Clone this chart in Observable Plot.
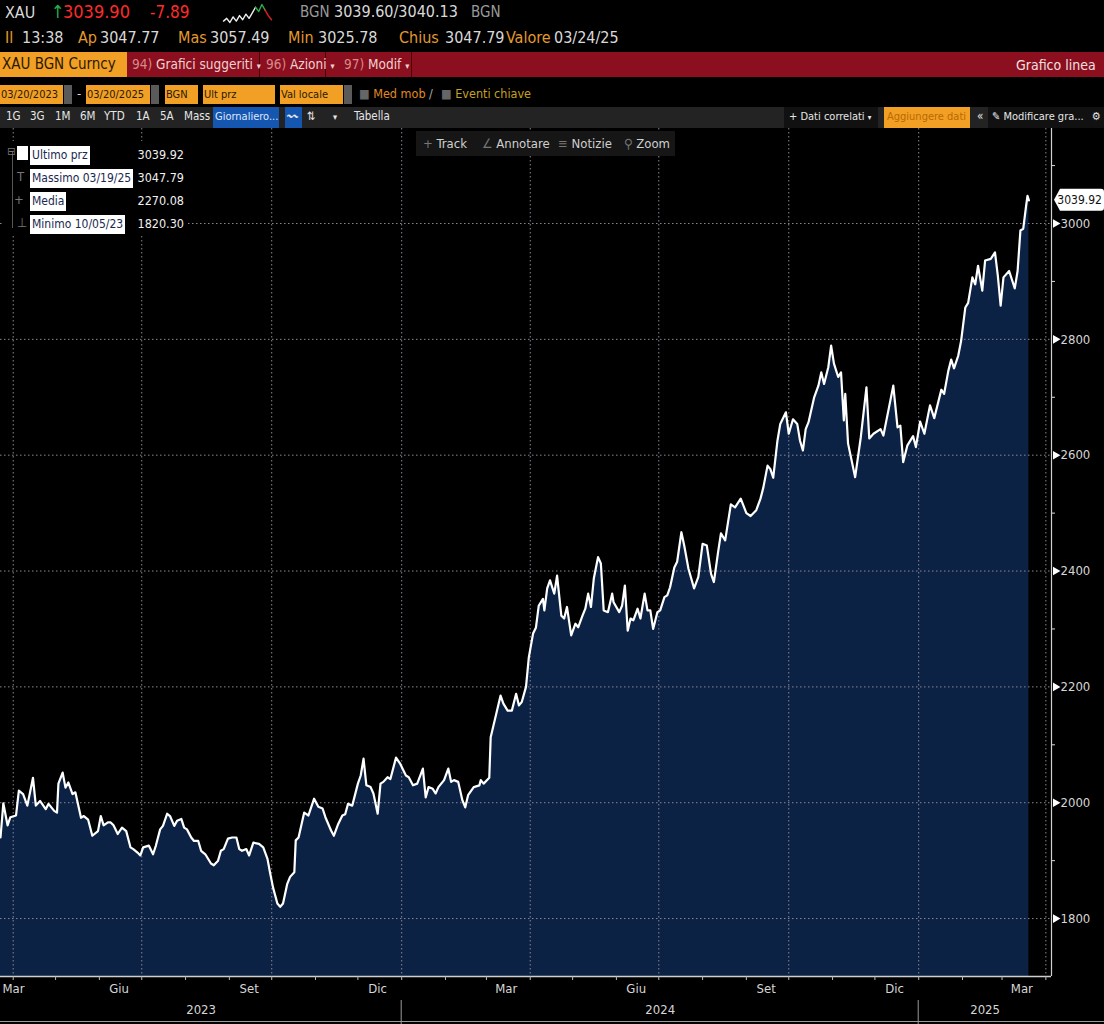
<!DOCTYPE html>
<html>
<head>
<meta charset="utf-8">
<script src="https://cdn.jsdelivr.net/npm/d3@7"></script>
<script src="https://cdn.jsdelivr.net/npm/@observablehq/plot@0.6"></script>
<style>
  html, body { margin: 0; padding: 0; background: #000; }
  body { width: 1104px; height: 1024px; overflow: hidden; position: relative;
         font-family: "DejaVu Sans Condensed", "DejaVu Sans", sans-serif; font-stretch: semi-condensed; }
  svg, svg text { font-stretch: semi-condensed; }
  .a { position: absolute; white-space: nowrap; line-height: 1; }
  .w { color: #d9d9d9; }
  .o { color: #e39a2c; }
  .r { color: #ff2a2a; }
  .box { position: absolute; }
  #chart { position: absolute; left: 0; top: 128px; }
  .ob { background: #f29f26; color: #2a1a00; font-size: 11px; height: 19px; line-height: 19px; padding-left: 1px; box-sizing: border-box; overflow: hidden; }
  .gb { background: #5a5a5a; }
  .tb { color: #e6e6e6; font-size: 11.5px; top: 111px; }
  .lg-l { background: #fff; color: #1a2850; font-size: 12px; height: 19px; line-height: 19px; padding: 0 2px; }
  .lg-v { color: #f0f0f0; font-size: 12.5px; text-align: right; width: 60px; }
</style>
</head>
<body>
<!-- Row 1 -->
<span class="a w" style="left:5px;top:5px;font-size:16px;">XAU</span>
<span class="a" style="left:51px;top:3px;font-size:18px;color:#22b14c;">↑</span>
<span class="a r" style="left:63px;top:3px;font-size:18px;">3039.90</span>
<span class="a r" style="left:150px;top:4px;font-size:17px;">-7.89</span>
<div class="box" id="spark" style="left:221px;top:2px;width:52px;height:22px;"></div>
<span class="a" style="left:300px;top:5px;font-size:15px;color:#9a9a9a;">BGN</span>
<span class="a w" style="left:334px;top:4px;font-size:16px;">3039.60/3040.13</span>
<span class="a" style="left:471px;top:5px;font-size:15px;color:#9a9a9a;">BGN</span>
<!-- Row 2 -->
<span class="a o" style="left:5px;top:30px;font-size:16px;">Il</span>
<span class="a w" style="left:22px;top:30px;font-size:16px;">13:38</span>
<span class="a o" style="left:78px;top:30px;font-size:16px;">Ap</span>
<span class="a w" style="left:100px;top:30px;font-size:16px;">3047.77</span>
<span class="a o" style="left:178px;top:30px;font-size:16px;">Mas</span>
<span class="a w" style="left:210px;top:30px;font-size:16px;">3057.49</span>
<span class="a o" style="left:288px;top:30px;font-size:16px;">Min</span>
<span class="a w" style="left:318px;top:30px;font-size:16px;">3025.78</span>
<span class="a o" style="left:399px;top:30px;font-size:16px;">Chius</span>
<span class="a w" style="left:445px;top:30px;font-size:16px;">3047.79</span>
<span class="a o" style="left:506px;top:30px;font-size:16px;">Valore</span>
<span class="a w" style="left:554px;top:30px;font-size:16px;">03/24/25</span>
<!-- Row 3: red bar -->
<div class="box" style="left:0;top:52px;width:1104px;height:25px;background:#8b0f1f;"></div>
<div class="box" style="left:0;top:52px;width:127px;height:25px;background:#f29f26;"></div>
<span class="a" style="left:2px;top:57px;font-size:15px;color:#2a1a00;">XAU BGN Curncy</span>
<div class="box" style="left:259px;top:52px;width:1px;height:25px;background:#4a0008;"></div>
<div class="box" style="left:325px;top:52px;width:1px;height:25px;background:#4a0008;"></div>
<div class="box" style="left:411px;top:52px;width:1px;height:25px;background:#4a0008;"></div>
<span class="a" style="left:132px;top:58px;font-size:13.5px;color:#f0d0d0;"><span style="color:#d88a8a">94)</span> Grafici suggeriti <span style="font-size:9px">▾</span></span>
<span class="a" style="left:266px;top:58px;font-size:13.5px;color:#f0d0d0;"><span style="color:#d88a8a">96)</span> Azioni <span style="font-size:9px">▾</span></span>
<span class="a" style="left:344px;top:58px;font-size:13.5px;color:#f0d0d0;"><span style="color:#d88a8a">97)</span> Modif <span style="font-size:9px">▾</span></span>
<span class="a" style="left:1016px;top:58px;font-size:14px;color:#f2e0e0;">Grafico linea</span>
<!-- Row 4 -->
<div class="a ob" style="left:0;top:85px;width:63px;">03/20/2023</div>
<div class="box gb" style="left:64px;top:85px;width:8px;height:19px;"></div>
<span class="a w" style="left:77px;top:87px;font-size:13px;">-</span>
<div class="a ob" style="left:86px;top:85px;width:64px;">03/20/2025</div>
<div class="box gb" style="left:151px;top:85px;width:8px;height:19px;"></div>
<div class="a ob" style="left:165px;top:85px;width:33px;">BGN</div>
<div class="a ob" style="left:203px;top:85px;width:72px;">Ult prz</div>
<div class="a ob" style="left:280px;top:85px;width:63px;">Val locale</div>
<div class="box gb" style="left:344px;top:85px;width:8px;height:19px;"></div>
<span class="a" style="left:359px;top:88px;font-size:12.5px;color:#e08a20;"><span style="color:#666">■</span> Med mob <span style="color:#aaa">/</span></span>
<span class="a" style="left:441px;top:88px;font-size:12.5px;color:#c7a020;"><span style="color:#666">■</span> Eventi chiave</span>
<!-- Row 5 toolbar -->
<div class="box" style="left:0;top:107px;width:1104px;height:21px;background:#232323;"></div>
<span class="a tb" style="left:6px;">1G</span>
<span class="a tb" style="left:30px;">3G</span>
<span class="a tb" style="left:55px;">1M</span>
<span class="a tb" style="left:80px;">6M</span>
<span class="a tb" style="left:104px;">YTD</span>
<span class="a tb" style="left:136px;">1A</span>
<span class="a tb" style="left:160px;">5A</span>
<span class="a tb" style="left:184px;">Mass</span>
<div class="box" style="left:213px;top:107px;width:66px;height:21px;background:#1556b0;"></div>
<span class="a tb" style="left:215px;color:#dde8ff;font-size:11px;">Giornaliero...</span>
<div class="box" style="left:285px;top:107px;width:17px;height:21px;background:#1556b0;"></div>
<span class="a tb" style="left:287px;font-size:11px;">〰</span>
<span class="a tb" style="left:307px;">⇅</span>
<span class="a tb" style="left:333px;font-size:9px;top:113px;">▾</span>
<span class="a tb" style="left:354px;">Tabella</span>
<div class="box" style="left:784px;top:107px;width:94px;height:21px;background:#111;"></div>
<span class="a tb" style="left:789px;font-size:11px;">+ Dati correlati <span style="font-size:8px">▾</span></span>
<div class="box" style="left:884px;top:107px;width:86px;height:21px;background:#f29f26;"></div>
<span class="a tb" style="left:887px;color:#b86a00;font-size:11px;">Aggiungere dati</span>
<span class="a tb" style="left:977px;">«</span>
<div class="box" style="left:988px;top:107px;width:116px;height:21px;background:#111;"></div>
<span class="a tb" style="left:992px;font-size:11px;">✎ Modificare gra...</span>
<span class="a tb" style="left:1092px;font-size:11px;">⚙</span>

<div id="chart"></div>

<!-- Track toolbar overlay -->
<div class="box" style="left:416px;top:131px;width:259px;height:25px;background:#161616;"></div>
<span class="a" style="left:423px;top:137px;font-size:13px;color:#cfcfcf;"><span style="color:#777">+</span> Track</span>
<span class="a" style="left:482px;top:137px;font-size:13px;color:#cfcfcf;"><span style="color:#777">∠</span> Annotare</span>
<span class="a" style="left:558px;top:137px;font-size:13px;color:#cfcfcf;"><span style="color:#777">≡</span> Notizie</span>
<span class="a" style="left:624px;top:137px;font-size:13px;color:#cfcfcf;"><span style="color:#777">⚲</span> Zoom</span>

<!-- Legend overlay -->
<div class="box" style="left:4px;top:141px;width:184px;height:95px;background:#000;"></div>
<div class="box" style="left:12px;top:152px;width:1px;height:76px;background:#555;"></div>
<span class="a" style="left:7px;top:146px;font-size:11px;color:#777;">⊟</span>
<div class="box" style="left:17px;top:146px;width:11px;height:14px;background:#fff;"></div>
<span class="a" style="left:17px;top:170px;font-size:13px;color:#777;">T</span>
<span class="a" style="left:14px;top:193px;font-size:13px;color:#777;">+</span>
<span class="a" style="left:17px;top:216px;font-size:13px;color:#777;">⊥</span>
<div class="a lg-l" style="left:30px;top:146px;">Ultimo prz</div>
<div class="a lg-l" style="left:30px;top:169px;">Massimo 03/19/25</div>
<div class="a lg-l" style="left:30px;top:192px;">Media</div>
<div class="a lg-l" style="left:30px;top:215px;">Minimo 10/05/23</div>
<div class="a lg-v" style="left:124px;top:149px;">3039.92</div>
<div class="a lg-v" style="left:124px;top:172px;">3047.79</div>
<div class="a lg-v" style="left:124px;top:195px;">2270.08</div>
<div class="a lg-v" style="left:124px;top:218px;">1820.30</div>

<script>
// ---------- DATA ----------
const dates = [
"2023-03-23","2023-03-25","2023-03-28","2023-03-30","2023-04-03","2023-04-05","2023-04-08","2023-04-11","2023-04-15","2023-04-17",
"2023-04-20","2023-04-24","2023-04-26","2023-04-30","2023-05-02","2023-05-03","2023-05-06","2023-05-08","2023-05-10","2023-05-13",
"2023-05-15","2023-05-19","2023-05-21","2023-05-24","2023-05-27","2023-05-31","2023-06-02","2023-06-04","2023-06-07","2023-06-09",
"2023-06-11","2023-06-14","2023-06-17","2023-06-20","2023-06-23","2023-06-25","2023-06-28","2023-06-30","2023-07-02","2023-07-06",
"2023-07-09","2023-07-11","2023-07-14","2023-07-16","2023-07-19","2023-07-21","2023-07-24","2023-07-26","2023-07-29","2023-07-31",
"2023-08-02","2023-08-05","2023-08-07","2023-08-10","2023-08-12","2023-08-15","2023-08-19","2023-08-21","2023-08-24","2023-08-26",
"2023-08-28","2023-08-31","2023-09-03","2023-09-06","2023-09-08","2023-09-10","2023-09-13","2023-09-15","2023-09-18","2023-09-22",
"2023-09-25","2023-09-28","2023-09-30","2023-10-02","2023-10-05","2023-10-07","2023-10-09","2023-10-12","2023-10-14","2023-10-17",
"2023-10-18","2023-10-20","2023-10-24","2023-10-27","2023-10-31","2023-11-03","2023-11-06","2023-11-08","2023-11-12","2023-11-14",
"2023-11-17","2023-11-20","2023-11-22","2023-11-24","2023-11-27","2023-12-01","2023-12-03","2023-12-05","2023-12-07","2023-12-10",
"2023-12-12","2023-12-15","2023-12-17","2023-12-19","2023-12-22","2023-12-24","2023-12-28","2023-12-31","2024-01-04","2024-01-06",
"2024-01-09","2024-01-12","2024-01-16","2024-01-18","2024-01-20","2024-01-23","2024-01-25","2024-01-27","2024-01-31","2024-02-03",
"2024-02-05","2024-02-07","2024-02-10","2024-02-13","2024-02-15","2024-02-17","2024-02-21","2024-02-25","2024-02-26","2024-02-28",
"2024-03-03","2024-03-04","2024-03-08","2024-03-11","2024-03-13","2024-03-16","2024-03-19","2024-03-22","2024-03-24","2024-03-26",
"2024-03-29","2024-03-31","2024-04-03","2024-04-05","2024-04-07","2024-04-10","2024-04-11","2024-04-13","2024-04-15","2024-04-18",
"2024-04-20","2024-04-23","2024-04-25","2024-04-27","2024-04-30","2024-05-03","2024-05-05","2024-05-08","2024-05-10","2024-05-12",
"2024-05-14","2024-05-16","2024-05-19","2024-05-21","2024-05-23","2024-05-26","2024-05-29","2024-05-30","2024-06-03","2024-06-05",
"2024-06-07","2024-06-09","2024-06-11","2024-06-13","2024-06-16","2024-06-18","2024-06-21","2024-06-23","2024-06-25","2024-06-27",
"2024-06-30","2024-07-02","2024-07-05","2024-07-07","2024-07-09","2024-07-12","2024-07-14","2024-07-17","2024-07-19","2024-07-22",
"2024-07-26","2024-07-29","2024-08-01","2024-08-04","2024-08-07","2024-08-09","2024-08-12","2024-08-14","2024-08-17","2024-08-21",
"2024-08-24","2024-08-28","2024-09-01","2024-09-04","2024-09-08","2024-09-11","2024-09-13","2024-09-16","2024-09-18","2024-09-20",
"2024-09-23","2024-09-25","2024-09-29","2024-10-01","2024-10-04","2024-10-07","2024-10-09","2024-10-11","2024-10-13","2024-10-15",
"2024-10-19","2024-10-22","2024-10-24","2024-10-26","2024-10-29","2024-10-31","2024-11-02","2024-11-05","2024-11-07","2024-11-09",
"2024-11-10","2024-11-12","2024-11-17","2024-11-21","2024-11-25","2024-11-27","2024-11-30","2024-12-05","2024-12-07","2024-12-11",
"2024-12-14","2024-12-17","2024-12-19","2024-12-21","2024-12-24","2024-12-28","2024-12-30","2025-01-02","2025-01-05","2025-01-09",
"2025-01-12","2025-01-17","2025-01-19","2025-01-22","2025-01-24","2025-01-26","2025-01-29","2025-01-31","2025-02-03","2025-02-05",
"2025-02-08","2025-02-10","2025-02-12","2025-02-15","2025-02-17","2025-02-21","2025-02-24","2025-02-26","2025-02-28","2025-03-02",
"2025-03-06","2025-03-10","2025-03-12","2025-03-14","2025-03-16","2025-03-18","2025-03-19","2025-03-20"
];
const prices = [
1940,1999,1961,1975,1978,2021,2015,1995,2043,1995,
2003,1989,1998,1986,1983,2033,2052,2026,2035,2015,
2018,1974,1977,1971,1943,1951,1977,1961,1966,1966,
1961,1946,1957,1951,1923,1920,1914,1909,1923,1926,
1911,1926,1954,1960,1981,1977,1960,1969,1972,1957,
1954,1940,1934,1934,1917,1911,1895,1892,1900,1917,
1920,1938,1940,1940,1920,1917,1920,1909,1931,1929,
1923,1903,1877,1853,1826,1820.3,1826,1860,1872,1880,
1935,1940,1983,1978,2007,1993,1990,1975,1952,1943,
1963,1978,1980,1998,1995,2033,2047,2076,2030,2027,
2016,1981,2033,2036,2044,2041,2078,2067,2047,2044,
2030,2033,2059,2009,2027,2024,2016,2027,2039,2059,
2036,2039,2036,2004,1992,2013,2027,2030,2039,2033,
2043,2113,2154,2185,2171,2159,2159,2188,2168,2174,
2200,2251,2292,2302,2340,2352,2332,2370,2384,2361,
2392,2323,2318,2338,2289,2309,2303,2323,2335,2361,
2338,2387,2424,2413,2332,2329,2361,2346,2329,2340,
2375,2297,2318,2315,2335,2318,2361,2332,2332,2300,
2329,2332,2355,2358,2372,2406,2416,2467,2444,2404,
2370,2390,2447,2444,2395,2381,2433,2465,2453,2515,
2510,2525,2500,2495,2505,2525,2544,2582,2576,2561,
2625,2654,2674,2637,2662,2654,2625,2608,2645,2657,
2700,2720,2743,2723,2752,2789,2758,2735,2743,2660,
2706,2620,2562,2631,2717,2629,2637,2645,2634,2683,
2720,2648,2651,2588,2617,2633,2614,2658,2637,2686,
2664,2713,2706,2746,2765,2750,2772,2797,2855,2863,
2907,2895,2927,2884,2936,2939,2950,2910,2858,2907,
2918,2888,2918,2988,2991,3030,3047.79,3039.92
];
const yTickValues = [1800, 2000, 2200, 2400, 2600, 2800, 3000];
const yMinorValues = [1900, 2100, 2300, 2500, 2700, 2900, 3100];
const gridDates = ["2023-04-01","2023-07-01","2023-10-01","2024-01-01","2024-04-01","2024-07-01","2024-10-01","2025-01-01","2025-04-01"];
const monthLabelDates = ["2023-03-15","2023-06-15","2023-09-15","2023-12-15","2024-03-15","2024-06-15","2024-09-15","2024-12-15","2025-03-15"];
const monthLabelTexts = ["Mar","Giu","Set","Dic","Mar","Giu","Set","Dic","Mar"];
const yearLabels = ["2023","2024","2025"];
const yearStarts = ["2024-01-01","2025-01-01"];
const xDomain = ["2023-03-23","2025-04-05"];
const yDomain = [1700, 3164];
const sparkValues = [5,7,4,8,5,9,6,10,7,11,15,12,17,13,9,6];

// ---------- BUILD ----------
const parse = d3.utcParse("%Y-%m-%d");
const data = dates.map((d, i) => ({date: parse(d), value: prices[i]}));
const x0 = parse(xDomain[0]), x1 = parse(xDomain[1]);
const font = '"DejaVu Sans Condensed","DejaVu Sans",sans-serif';
const labels = monthLabelDates.map((d, i) => ({date: parse(d), text: monthLabelTexts[i]}));
const inLabels = labels.filter(d => d.date >= x0);
const outLabels = labels.filter(d => d.date < x0).map(d => ({date: x0, text: d.text}));
const bounds = [x0, ...yearStarts.map(parse), x1];
const years = yearLabels.map((t, i) => ({date: new Date((+bounds[i] + +bounds[i + 1]) / 2), text: t}));
const monthStarts = d3.utcMonth.range(d3.utcMonth.ceil(x0), x1);
const last = data[data.length - 1];
const grid = "#8d8595";

const plot = Plot.plot({
  width: 1104, height: 896,
  marginTop: 0, marginLeft: 0, marginRight: 53, marginBottom: 48,
  style: {background: "#000", color: "#d6d6d6", fontFamily: font, fontSize: "13px", overflow: "visible"},
  x: {type: "utc", domain: [x0, x1]},
  y: {domain: yDomain},
  marks: [
    Plot.areaY(data, {x: "date", y: "value", fill: "#0b2245", clip: true}),
    Plot.ruleY(yTickValues, {stroke: grid, strokeDasharray: "1.5,2.5", strokeWidth: 1}),
    Plot.ruleX(gridDates.map(parse), {stroke: grid, strokeDasharray: "1.5,2.5", strokeWidth: 1}),
    Plot.lineY(data, {x: "date", y: "value", stroke: "#fff", strokeWidth: 2.2, strokeLinejoin: "round"}),
    Plot.ruleX([x1], {stroke: "#d0d0d0", strokeWidth: 1.2}),
    Plot.ruleY([yDomain[0]], {stroke: "#d0d0d0", strokeWidth: 1.5}),
    Plot.axisY(yTickValues, {anchor: "right", tickSize: 0, tickPadding: 9, label: null, tickFormat: d3.format("d"), fill: "#d6d6d6", fontSize: 13}),
    Plot.axisY(yMinorValues.filter(v => v < yDomain[1]), {anchor: "right", tickSize: 3, tickFormat: () => "", label: null, stroke: "#ddd"}),
    Plot.dot(yTickValues, {x: () => x1, y: d => d, symbol: "triangle", rotate: 90, r: 3.2, fill: "#fff", dx: 4}),
    Plot.axisX(monthStarts, {tickSize: 4, tickFormat: () => "", label: null, stroke: "#bbb"}),
    Plot.text(inLabels, {x: "date", text: "text", frameAnchor: "bottom", dy: 16, fill: "#d6d6d6", fontSize: 13}),
    Plot.text(outLabels, {x: "date", text: "text", frameAnchor: "bottom", dy: 16, dx: 2, textAnchor: "start", fill: "#d6d6d6", fontSize: 13}),
    Plot.text(years, {x: "date", text: "text", frameAnchor: "bottom", dy: 37, fill: "#d6d6d6", fontSize: 13})
  ]
});
document.getElementById("chart").appendChild(plot);

// decorations bound to the plot's own scales
const sx = plot.scale("x"), sy = plot.scale("y");
const svg = d3.select(plot);
const H = 896;
yearStarts.map(parse).forEach(d => {
  const px = sx.apply(d);
  svg.append("line").attr("x1", px).attr("x2", px).attr("y1", H - 24).attr("y2", H).attr("stroke", "#9a9a9a");
});
svg.append("line").attr("x1", 0).attr("x2", 1104).attr("y1", H - 2.5).attr("y2", H - 2.5).attr("stroke", "#9a9a9a");
// last-price tag
const ty = sy.apply(last.value), tx = sx.apply(x1) + 3;
svg.append("path")
  .attr("d", `M${tx},${ty} L${tx + 6},${ty - 11} H1101 Q1104,${ty - 11} 1104,${ty - 8} V${ty + 8} Q1104,${ty + 11} 1101,${ty + 11} H${tx + 6} Z`)
  .attr("fill", "#fff");
svg.append("text").attr("x", 1102).attr("y", ty).attr("dy", "0.35em").attr("text-anchor", "end")
  .attr("font-size", 12).attr("fill", "#111").attr("font-family", font)
  .text(d3.format(".2f")(last.value));

// header sparkline
const sp = sparkValues.map((v, i) => ({i, v}));
const seg = sp.map((d, i) => ({...d, c: i <= 9 ? "#eee" : i <= 12 ? "#2fb24a" : "#e02020"}));
const sparkData = [];
seg.forEach((d, i) => {
  sparkData.push(d);
  if (i < seg.length - 1 && seg[i + 1].c !== d.c) sparkData.push({...seg[i + 1], c: d.c});
});
const spark = Plot.plot({
  width: 52, height: 22, margin: 2, axis: null,
  style: {background: "transparent"},
  marks: [Plot.line(sparkData, {x: "i", y: "v", z: "c", stroke: "c", strokeWidth: 1.4})]
});
document.getElementById("spark").appendChild(spark);
</script>
</body>
</html>
